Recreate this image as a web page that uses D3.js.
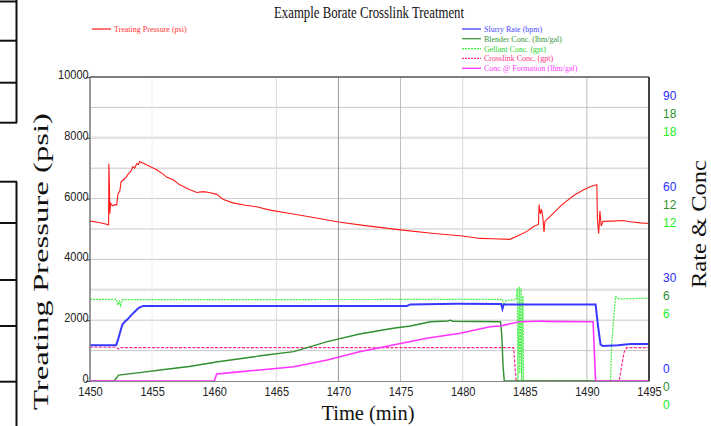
<!DOCTYPE html>
<html><head><meta charset="utf-8">
<script src="https://cdn.jsdelivr.net/npm/d3@7/dist/d3.min.js"></script>
<style>body{margin:0;background:#fff}svg{display:block}</style>
</head><body>
<svg id="chart" width="711" height="426"></svg>
<script>
// ---------- data ----------
const chartTitle = "Example Borate Crosslink Treatment";
const xTitle = "Time (min)";
const yLeftTitle = "Treating Pressure (psi)";
const yRightTitle = "Rate & Conc";
const seriesNames = ["Treating Pressure (psi)", "Slurry Rate  (bpm)", "Blender Conc.  (lbm/gal)", "Gellant Conc.  (gpt)", "Crosslink Conc.  (gpt)", "Conc @ Formation (lbm/gal)"];

const timeTicks = [1450, 1455, 1460, 1465, 1470, 1475, 1480, 1485, 1490, 1495];
const pressureTicks = [0, 2000, 4000, 6000, 8000, 10000];
const rateTicks = [0, 30, 60, 90];
const blenderTicks = [0, 6, 12, 18];
const gellantTicks = [0, 6, 12, 18];
const pressureGrid = [1000, 2000, 3000, 4000, 5000, 6000, 7000, 8000, 9000];
const timeGrid = [1455, 1465, 1470, 1475, 1480, 1490];

const pressure = [[1450.0,5260],[1450.5,5230],[1451.0,5190],[1451.5,5140],[1451.52,7150],[1451.56,6500],[1451.6,5500],[1451.65,5850],[1451.8,5760],[1452.0,5800],[1452.15,5790],[1452.25,6150],[1452.4,6250],[1452.5,6550],[1452.7,6620],[1452.9,6700],[1453.1,6820],[1453.3,6900],[1453.45,7050],[1453.6,7000],[1453.75,7150],[1453.9,7120],[1454.0,7220],[1454.2,7180],[1454.5,7120],[1455.0,7020],[1455.4,6940],[1455.8,6830],[1456.2,6700],[1456.7,6620],[1457.2,6460],[1457.7,6360],[1458.1,6280],[1458.6,6200],[1459.1,6230],[1459.6,6200],[1460.2,6140],[1460.7,5980],[1461.5,5860],[1462.5,5780],[1463.4,5730],[1464.5,5620],[1466.1,5510],[1468,5380],[1470,5230],[1472,5120],[1475,4970],[1477.5,4860],[1480,4770],[1481.4,4690],[1482.5,4680],[1483.8,4660],[1484.5,4790],[1485.2,4930],[1485.7,5080],[1486.1,5150],[1486.15,5800],[1486.25,5500],[1486.35,5650],[1486.45,5400],[1486.55,4900],[1486.62,5250],[1487,5400],[1488,5800],[1489,6120],[1489.7,6280],[1490.3,6400],[1490.8,6460],[1490.85,5300],[1490.95,4850],[1491.05,5600],[1491.15,5100],[1491.3,5250],[1492,5260],[1492.9,5280],[1493.5,5240],[1494.3,5200],[1495,5180]];

const slurryRate = [[1450,11.8],[1452.1,11.8],[1452.25,13.5],[1452.4,15.7],[1452.6,18.5],[1452.8,19.5],[1453.0,20.2],[1453.2,21.1],[1453.4,22.0],[1453.6,22.8],[1453.8,23.6],[1454.0,24.2],[1454.3,24.7],[1475.5,24.7],[1475.8,25.2],[1479.5,25.4],[1483.1,25.3],[1483.2,23.7],[1483.3,25.2],[1490.7,25.2],[1490.9,18],[1491.1,12],[1491.3,11.5],[1492.5,11.8],[1493.5,12.2],[1495,12.2]];

const blenderConc = [[1450,0],[1451.95,0],[1452.3,0.39],[1454,0.55],[1456.3,0.79],[1458,0.95],[1460.3,1.27],[1463.4,1.62],[1463.7,1.66],[1466.4,1.93],[1469.1,2.59],[1471.7,3.09],[1474.4,3.47],[1475.8,3.62],[1477.4,3.9],[1478.8,3.95],[1479,4.0],[1479.2,3.93],[1483.05,3.9],[1483.15,3.0],[1483.25,1.0],[1483.35,0],[1495,0]];

const gellantConc = [[1450,5.37],[1452.1,5.37],[1452.25,5.0],[1452.35,5.3],[1452.45,4.95],[1452.6,5.35],[1483.2,5.37],[1483.3,5.0],[1483.5,5.3],[1484.3,5.35],[1484.4,6.1],[1484.45,0],[1484.55,6.2],[1484.6,0.5],[1484.7,6.1],[1484.75,0],[1484.85,5.6],[1484.9,0],[1491.9,0],[1492.0,2.5],[1492.3,5.55],[1492.6,5.4],[1495,5.45]];

const crosslinkConc = [[1450,2.22],[1452.1,2.22],[1452.3,2.1],[1452.5,2.2],[1484.1,2.2],[1484.3,0],[1492.6,0],[1492.8,1.0],[1493.0,1.9],[1493.2,2.2],[1495,2.2]];

const formationConc = [[1450,0],[1460.0,0],[1460.2,0.46],[1462,0.6],[1464.1,0.76],[1466.4,0.94],[1469.1,1.38],[1471.7,1.93],[1474.4,2.37],[1477.1,2.81],[1479.8,3.14],[1482.2,3.57],[1483.0,3.62],[1484.6,3.9],[1486.5,3.95],[1486.7,3.92],[1490.5,3.9],[1490.7,0],[1495,0]];

// ---------- layout ----------
const svg = d3.select("#chart");
const L = 90, R = 649, T = 77, B = 381;
const x = d3.scaleLinear().domain([1450, 1495]).range([L, R]);
const yP = d3.scaleLinear().domain([0, 10000]).range([B, T]);
const yRate = d3.scaleLinear().domain([0, 100]).range([B, T]);
const yConc = d3.scaleLinear().domain([0, 20]).range([B, T]);

const serif = "'Liberation Serif','Times New Roman',serif";
const sans = "'Liberation Sans',Arial,sans-serif";

// page-edge boxes
const edge = svg.append("g").attr("stroke", "#111").attr("stroke-width", 2).attr("fill", "none");
[1.5, 40.7, 82.7, 122.7, 181.7, 223, 280, 326, 381.7].forEach(v => edge.append("line").attr("x1", 0).attr("x2", 17).attr("y1", v).attr("y2", v));
edge.append("line").attr("x1", 16.5).attr("x2", 16.5).attr("y1", 0).attr("y2", 122.7);
edge.append("line").attr("x1", 16.5).attr("x2", 16.5).attr("y1", 181.7).attr("y2", 426);

// grid
const grid = svg.append("g");
grid.selectAll("line.h").data(pressureGrid).join("line")
  .attr("x1", L).attr("x2", R).attr("y1", d => yP(d)).attr("y2", d => yP(d))
  .attr("stroke", d => (d === 8000 || d === 3000) ? "#e4e4e4" : "#c8c8c8")
  .attr("stroke-width", d => (d === 8000 || d === 3000) ? 2.5 : 1);
grid.selectAll("line.v").data(timeGrid).join("line")
  .attr("y1", T).attr("y2", B).attr("x1", d => x(d)).attr("x2", d => x(d))
  .attr("stroke", d => d === 1470 ? "#9a9a9a" : d === 1455 ? "#eeeeee" : (d === 1465 || d === 1480) ? "#dadada" : "#bdbdbd")
  .attr("stroke-width", 1);

// series
const line = (ys) => d3.line().x(d => x(d[0])).y(d => ys(d[1]));
const plot = svg.append("g");
plot.append("path").datum(gellantConc).attr("d", line(yConc)).attr("fill", "none").attr("stroke", "#44f044").attr("stroke-width", 1.2).attr("stroke-dasharray", "2,1");
plot.append("path").datum(crosslinkConc).attr("d", line(yConc)).attr("fill", "none").attr("stroke", "#ff2a88").attr("stroke-width", 1.2).attr("stroke-dasharray", "3,1.5");
plot.append("path").datum(blenderConc).attr("d", line(yConc)).attr("fill", "none").attr("stroke", "#2e8f2e").attr("stroke-width", 1.4);
plot.append("path").datum(formationConc).attr("d", line(yConc)).attr("fill", "none").attr("stroke", "#ff33ff").attr("stroke-width", 1.6);
plot.append("path").datum(slurryRate).attr("d", line(yRate)).attr("fill", "none").attr("stroke", "#3838ff").attr("stroke-width", 2);
plot.append("path").datum(pressure).attr("d", line(yP)).attr("fill", "none").attr("stroke", "#ff1a1a").attr("stroke-width", 1.1);

// border
const bd = svg.append("g").attr("fill", "none");
bd.append("line").attr("x1", L).attr("x2", R).attr("y1", T).attr("y2", T).attr("stroke", "#555").attr("stroke-width", 1.5);
bd.append("line").attr("x1", L).attr("x2", L).attr("y1", T).attr("y2", B).attr("stroke", "#777").attr("stroke-width", 1.5);
bd.append("line").attr("x1", R).attr("x2", R).attr("y1", T).attr("y2", B).attr("stroke", "#444").attr("stroke-width", 2);

// axes
const ax = svg.append("g").attr("transform", `translate(${L},0)`)
  .call(d3.axisLeft(yP).tickValues(pressureTicks).tickFormat(d3.format("d")).tickSize(4));
ax.select(".domain").remove();
ax.selectAll(".tick line").attr("stroke", "#444");
ax.selectAll(".tick text").attr("x", -1.5).attr("dy", null).attr("y", 1.5)
  .attr("font-family", sans).attr("font-size", 12.5).attr("fill", "#222").attr("transform", "scale(0.88,1)");

const bx = svg.append("g").attr("transform", `translate(0,${B})`)
  .call(d3.axisBottom(x).tickValues(timeTicks).tickFormat(d3.format("d")).tickSize(0));
bx.select(".domain").attr("stroke", "#888");
bx.selectAll(".tick text").attr("dy", null).attr("y", 15)
  .attr("font-family", sans).attr("font-size", 12.5).attr("fill", "#222").attr("transform", "scale(0.88,1)");

function rightAxis(scale, ticks, color, off) {
  const g = svg.append("g").attr("transform", `translate(663,0)`)
    .call(d3.axisRight(scale).tickValues(ticks).tickSize(0).tickPadding(0));
  g.select(".domain").remove();
  g.selectAll(".tick text").attr("x", 0).attr("dy", null).attr("y", off)
    .attr("font-family", sans).attr("font-size", 13).attr("fill", color).attr("transform", "scale(0.92,1)");
}
rightAxis(yRate, rateTicks, "#2b2bff", -8.2);
rightAxis(yConc, blenderTicks, "#2e8f2e", 9.9);
rightAxis(yConc, gellantTicks, "#22ee22", 27.9);

// titles
svg.append("text").attr("x", 369).attr("y", 18).attr("text-anchor", "middle")
  .attr("font-family", serif).attr("font-size", 16).attr("fill", "#111")
  .attr("textLength", 190).attr("lengthAdjust", "spacingAndGlyphs").text(chartTitle);
svg.append("text").attr("x", 368).attr("y", 420).attr("text-anchor", "middle")
  .attr("font-family", serif).attr("font-size", 22).attr("fill", "#111")
  .attr("textLength", 93).attr("lengthAdjust", "spacingAndGlyphs").text(xTitle);
svg.append("text").attr("transform", "translate(48,261.5) rotate(-90)").attr("text-anchor", "middle")
  .attr("font-family", serif).attr("font-size", 20).attr("fill", "#111")
  .attr("textLength", 297).attr("lengthAdjust", "spacingAndGlyphs").text(yLeftTitle);
svg.append("text").attr("transform", "translate(706,224) rotate(-90)").attr("text-anchor", "middle")
  .attr("font-family", serif).attr("font-size", 20).attr("fill", "#111")
  .attr("textLength", 128).attr("lengthAdjust", "spacingAndGlyphs").text(yRightTitle);

// legends
const legendStyles = [
  {c: "#ff2a2a", tc: "#ff3333", dash: null, x: 92, y: 29},
  {c: "#4040ff", tc: "#4a4aff", dash: null, x: 462, y: 29},
  {c: "#3c963c", tc: "#3c963c", dash: null, x: 462, y: 38.7},
  {c: "#33ee33", tc: "#2fd42f", dash: "2,1", x: 462, y: 48.7},
  {c: "#ff2a88", tc: "#ff3388", dash: "2,1", x: 462, y: 58.3},
  {c: "#ff33ff", tc: "#ff40ff", dash: null, x: 462, y: 68.3}
];
const lg = svg.append("g");
seriesNames.forEach((name, i) => {
  const s = legendStyles[i];
  lg.append("line").attr("x1", s.x).attr("x2", s.x + 19).attr("y1", s.y).attr("y2", s.y)
    .attr("stroke", s.c).attr("stroke-width", 1.3).attr("stroke-dasharray", s.dash);
  lg.append("text").attr("x", s.x + 22).attr("y", s.y + 2.8)
    .attr("font-family", serif).attr("font-size", 8).attr("fill", s.tc).text(name);
});
</script>
</body></html>
